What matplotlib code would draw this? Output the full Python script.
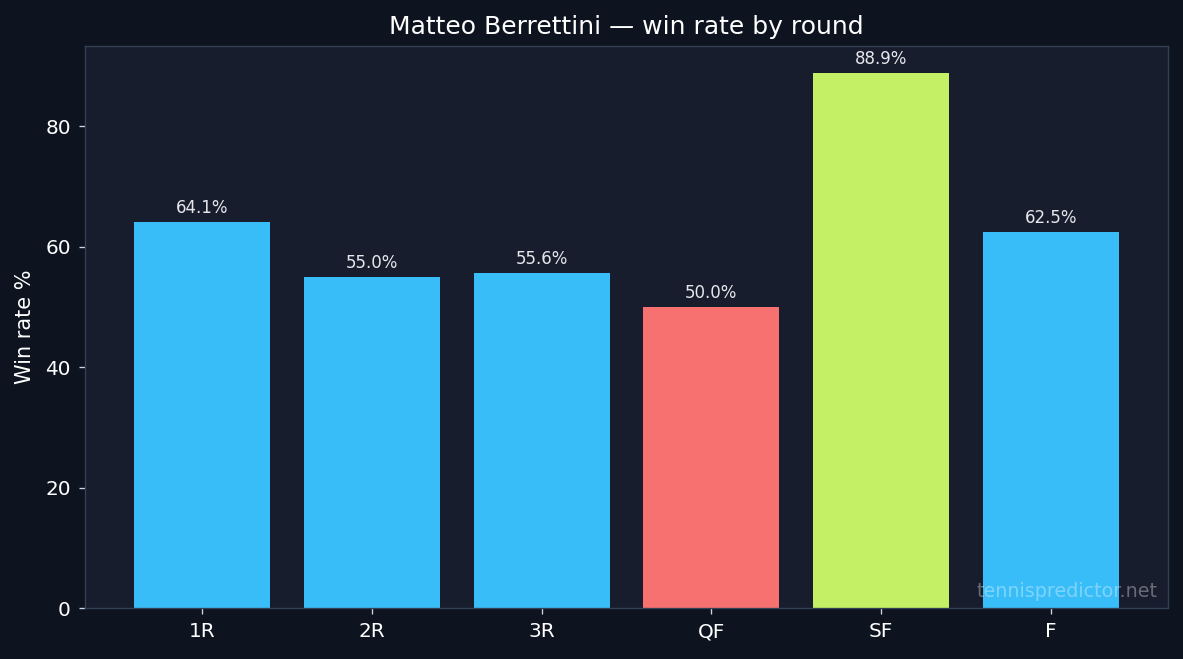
import matplotlib
matplotlib.use("Agg")
import matplotlib.pyplot as plt

plt.rcParams["font.family"] = ["DejaVu Sans"]

rounds = ["1R", "2R", "3R", "QF", "SF", "F"]
win_rate = [64.1, 55.0, 55.6, 50.0, 88.9, 62.5]
bar_colors = ["#38bdf8", "#38bdf8", "#38bdf8", "#f87171", "#c3f064", "#38bdf8"]

W, H, DPI = 1183, 659, 120
fig = plt.figure(figsize=(W / DPI, H / DPI), dpi=DPI, facecolor="#0e1320")
ax = fig.add_axes([85/W, 1 - 608/H, (1168-85)/W, (608-46)/H])
ax.set_facecolor("#181d2e")

x = list(range(len(rounds)))
ax.bar(x, win_rate, width=0.8, color=bar_colors)
for xi, v in zip(x, win_rate):
    ax.annotate(f"{v:.1f}%", (xi, v), xytext=(0, 3), textcoords="offset points",
                ha="center", va="bottom", color="#e5e7eb", fontsize=10)

ax.set_xticks(x)
ax.set_xticklabels(rounds)
ax.tick_params(colors="#cbd5e1", labelsize=12, length=3.5, pad=5)
for lab in ax.get_xticklabels() + ax.get_yticklabels():
    lab.set_color("white")
for s in ax.spines.values():
    s.set_color("#334155")
ax.set_ylabel("Win rate %", color="white", fontsize=12.5, labelpad=6)
ax.set_title("Matteo Berrettini — win rate by round", color="white", fontsize=15, pad=7)
ax.text(0.99, 0.012, "tennispredictor.net", transform=ax.transAxes, ha="right", va="bottom",
        color="white", alpha=0.35, fontsize=11.5)

fig.savefig("out.png", dpi=DPI, facecolor=fig.get_facecolor())
